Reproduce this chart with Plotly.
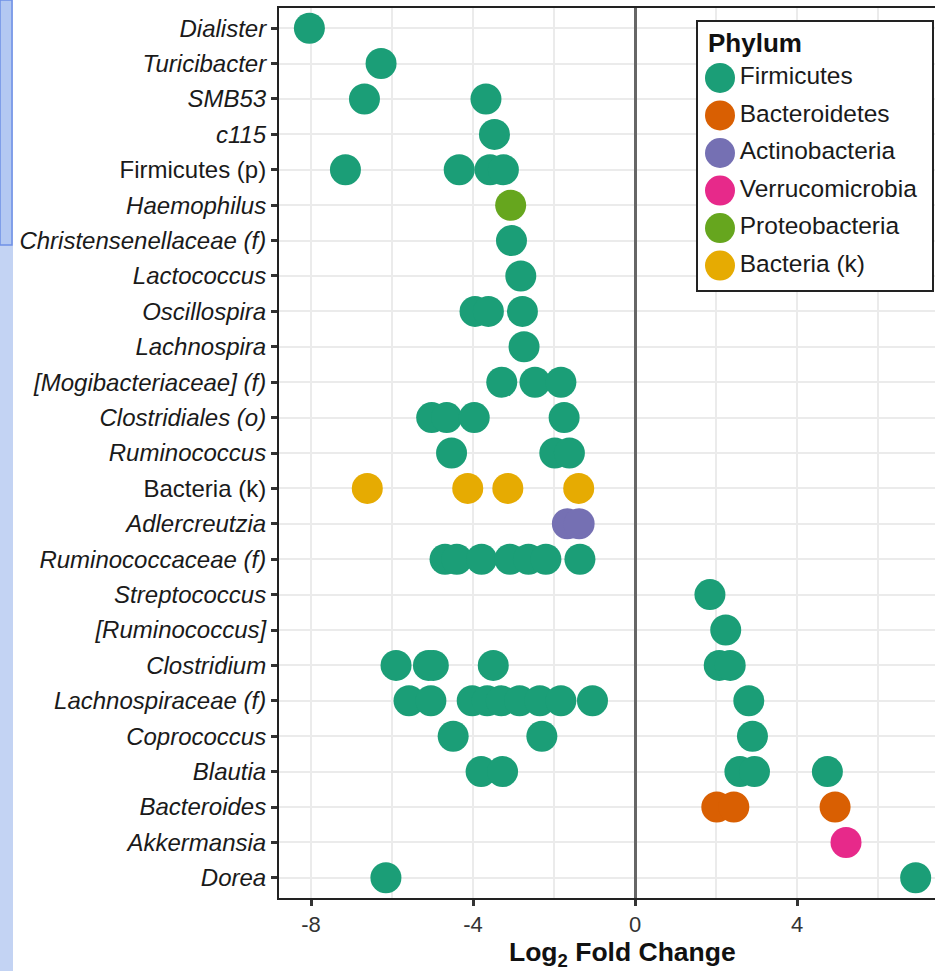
import plotly.graph_objects as go

# ---------------- data ----------------
taxa = ["Dialister", "Turicibacter", "SMB53", "c115", "Firmicutes (p)", "Haemophilus",
        "Christensenellaceae (f)", "Lactococcus", "Oscillospira", "Lachnospira",
        "[Mogibacteriaceae] (f)", "Clostridiales (o)", "Ruminococcus", "Bacteria (k)",
        "Adlercreutzia", "Ruminococcaceae (f)", "Streptococcus", "[Ruminococcus]",
        "Clostridium", "Lachnospiraceae (f)", "Coprococcus", "Blautia", "Bacteroides",
        "Akkermansia", "Dorea"]
taxa_italic = [True, True, True, True, False, True, True, True, True, True, True, True,
               True, False, True, True, True, True, True, True, True, True, True, True, True]

phyla = ["Firmicutes", "Bacteroidetes", "Actinobacteria", "Verrucomicrobia",
         "Proteobacteria", "Bacteria (k)"]
phylum_colors = ["#1b9e77", "#d95f02", "#7570b3", "#e7298a", "#66a61e", "#e6ab02"]

firmicutes_taxon = (["Dialister", "Turicibacter", "SMB53", "SMB53", "c115"]
                    + ["Firmicutes (p)"] * 4
                    + ["Christensenellaceae (f)", "Lactococcus"]
                    + ["Oscillospira"] * 3 + ["Lachnospira"]
                    + ["[Mogibacteriaceae] (f)"] * 3 + ["Clostridiales (o)"] * 4
                    + ["Ruminococcus"] * 3 + ["Ruminococcaceae (f)"] * 7
                    + ["Streptococcus", "[Ruminococcus]"] + ["Clostridium"] * 6
                    + ["Lachnospiraceae (f)"] * 10 + ["Coprococcus"] * 3
                    + ["Blautia"] * 5 + ["Dorea"] * 2)
firmicutes_lfc = ([-8.04, -6.27, -6.68, -3.68, -3.47]
                  + [-7.15, -4.34, -3.58, -3.25]
                  + [-3.05, -2.82]
                  + [-3.95, -3.62, -2.78, -2.74]
                  + [-3.29, -2.47, -1.83] + [-5.02, -4.65, -3.97, -1.75]
                  + [-4.53, -1.98, -1.62]
                  + [-4.69, -4.40, -3.79, -3.09, -2.63, -2.20, -1.36]
                  + [1.85, 2.24] + [-5.90, -5.10, -4.98, -3.50, 2.08, 2.35]
                  + [-5.58, -5.04, -4.02, -3.65, -3.30, -2.85, -2.35, -1.83, -1.05, 2.81]
                  + [-4.49, -2.30, 2.90]
                  + [-3.80, -3.27, 2.59, 2.95, 4.75] + [-6.15, 6.93])

bacteroidetes_taxon = ["Bacteroides"] * 3
bacteroidetes_lfc = [2.02, 2.44, 4.94]
actinobacteria_taxon = ["Adlercreutzia"] * 2
actinobacteria_lfc = [-1.67, -1.38]
verrucomicrobia_taxon = ["Akkermansia"]
verrucomicrobia_lfc = [5.21]
proteobacteria_taxon = ["Haemophilus"]
proteobacteria_lfc = [-3.07]
bacteria_k_taxon = ["Bacteria (k)"] * 4
bacteria_k_lfc = [-6.61, -4.13, -3.14, -1.39]

series_taxon = [firmicutes_taxon, bacteroidetes_taxon, actinobacteria_taxon,
                verrucomicrobia_taxon, proteobacteria_taxon, bacteria_k_taxon]
series_lfc = [firmicutes_lfc, bacteroidetes_lfc, actinobacteria_lfc,
              verrucomicrobia_lfc, proteobacteria_lfc, bacteria_k_lfc]

x_tickvals = [-8, -4, 0, 4]
x_ticktext = ["-8", "-4", "0", "4"]

# ---------------- figure ----------------
FONT = "Liberation Sans, Arial, Helvetica, sans-serif"
W, H = 935, 971
ML, MR, MT, MB = 279, 0, 8, 73

fig = go.Figure()
for name, col, tx, lfc in zip(phyla, phylum_colors, series_taxon, series_lfc):
    fig.add_trace(go.Scatter(
        x=lfc, y=tx, mode="markers", name=name, showlegend=False,
        marker=dict(size=31, color=col, line=dict(width=0)),
        xaxis="x", yaxis="y", cliponaxis=False))

# custom legend (big circles) in its own small subplot
fig.add_trace(go.Scatter(
    x=[0.094] * len(phyla), y=list(range(len(phyla))), mode="markers+text",
    text=phyla, textposition="middle right",
    textfont=dict(size=24.5, color="#1a1a1a", family=FONT),
    marker=dict(size=30, color=phylum_colors, line=dict(width=0)),
    showlegend=False, hoverinfo="skip", xaxis="x2", yaxis="y2", cliponaxis=False))

n = len(taxa)
ticktext = [("<i>%s</i>" % t) if it else t for t, it in zip(taxa, taxa_italic)]

pw = W - ML - MR
ph = H - MT - MB
px_per_unit = 40.5
x0_px = 635 - ML
xr = [-x0_px / px_per_unit, (pw - x0_px) / px_per_unit]

def px2px(xpx):
    return (xpx - ML) / pw

def py2py(ypx):
    return (H - MB - ypx) / ph

fig.update_layout(
    width=W, height=H,
    margin=dict(l=ML, r=MR, t=MT, b=MB, pad=0),
    paper_bgcolor="white", plot_bgcolor="white",
    font=dict(family=FONT, color="#1a1a1a"),
    showlegend=False,
    xaxis=dict(
        domain=[0, 1], range=xr, autorange=False,
        tickmode="array", tickvals=x_tickvals, ticktext=x_ticktext,
        ticks="outside", ticklen=6, tickwidth=2.5, tickcolor="#333333",
        tickfont=dict(size=22, color="#333333", family=FONT),
        showgrid=True, gridcolor="#ebebeb", gridwidth=1.6,
        minor=dict(dtick=2, tick0=0, showgrid=True, gridcolor="#ebebeb", gridwidth=1.6),
        zeroline=True, zerolinecolor="#666666", zerolinewidth=2.5,
        showline=True, linecolor="#222222", linewidth=2, mirror=True,
        fixedrange=True,
    ),
    yaxis=dict(
        type="category", categoryorder="array", categoryarray=taxa,
        range=[n - 1 + 0.57, -0.57], autorange=False,
        tickmode="array", tickvals=taxa, ticktext=ticktext,
        ticks="outside", ticklen=6, tickwidth=2.5, tickcolor="#333333",
        tickfont=dict(size=24, color="#1a1a1a", family=FONT),
        showgrid=True, gridcolor="#ebebeb", gridwidth=1.6,
        showline=True, linecolor="#222222", linewidth=2, mirror=False,
        zeroline=False,
    ),
    xaxis2=dict(domain=[px2px(698), px2px(932)], range=[0, 1], anchor="y2",
                showgrid=False, zeroline=False, showticklabels=False, ticks="",
                showline=True, linecolor="#222222", linewidth=1.5, mirror=True),
    yaxis2=dict(domain=[py2py(290), py2py(22)], range=[5.65, -1.49], anchor="x2",
                showgrid=False, zeroline=False, showticklabels=False, ticks="",
                showline=True, linecolor="#222222", linewidth=1.5, mirror=True),
)

# legend title
fig.add_annotation(text="<b>Phylum</b>", x=0.034, y=-0.93, xref="x2", yref="y2",
                   xanchor="left", yanchor="middle", showarrow=False,
                   font=dict(size=26, color="#111111", family=FONT))

# x-axis title
fig.add_annotation(text="<b>Log<sub>2</sub> Fold Change</b>", x=px2px(622), y=py2py(954),
                   xref="paper", yref="paper", xanchor="center", yanchor="middle",
                   showarrow=False, font=dict(size=26.5, color="#111111", family=FONT))

# slide decoration strip on the left edge
fig.add_shape(type="rect", xref="paper", yref="paper",
              x0=px2px(0), x1=px2px(13), y0=py2py(H), y1=py2py(0),
              fillcolor="#c3d3f3", line=dict(width=0), layer="below")
fig.add_shape(type="rect", xref="paper", yref="paper",
              x0=px2px(0), x1=px2px(12), y0=py2py(245), y1=py2py(0),
              fillcolor="#b3c8f2", line=dict(width=1.5, color="#6f90e6"), layer="below")

fig.write_html("out.html", config={"displayModeBar": False},
               post_script="document.body.style.margin='0px';document.body.style.overflow='hidden';")
